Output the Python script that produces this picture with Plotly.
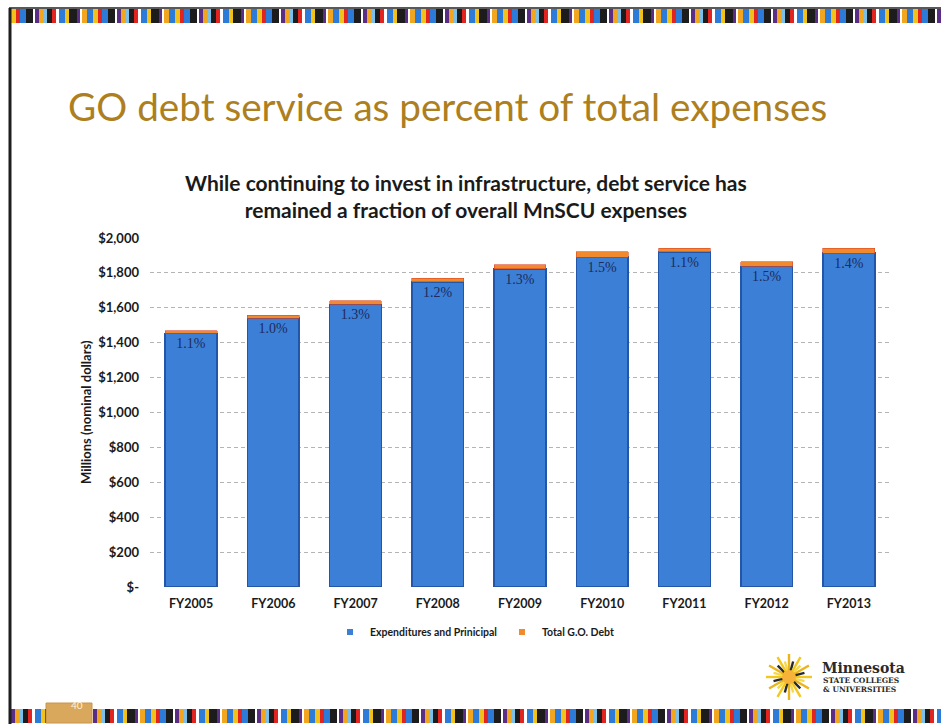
import math
import plotly.graph_objects as go

# Fiscal years and amounts in millions of nominal dollars
years = ["FY2005", "FY2006", "FY2007", "FY2008", "FY2009",
         "FY2010", "FY2011", "FY2012", "FY2013"]
expenditures = [1453, 1541, 1619, 1749, 1823, 1891, 1920, 1837, 1914]
go_debt = [16, 16, 21, 21, 24, 29, 21, 28, 27]
pct_labels = ["1.1%", "1.0%", "1.3%", "1.2%", "1.3%", "1.5%", "1.1%", "1.5%", "1.4%"]

y_ticks = [0, 200, 400, 600, 800, 1000, 1200, 1400, 1600, 1800, 2000]
y_tick_text = ["$-", "$200", "$400", "$600", "$800", "$1,000", "$1,200",
               "$1,400", "$1,600", "$1,800", "$2,000"]

EXP_BLUE = "#3B80D6"
DEBT_ORANGE = "#F08A2C"

W, H = 941, 725
ML, MR, MT, MB = 150, 51, 238, 138
PW, PH = W - ML - MR, H - MT - MB


def px(x):
    return (x - ML) / PW


def py(y):
    return (H - MB - y) / PH


fig = go.Figure()
fig.add_trace(go.Bar(
    x=years, y=expenditures, name="Expenditures and Prinicipal",
    legendgroup="exp", showlegend=False,
    marker=dict(color=EXP_BLUE, line=dict(color="#2356A8", width=1.5)),
    text=pct_labels, textposition="inside", insidetextanchor="end",
    textfont=dict(family="Liberation Serif", size=14, color="#1E2B5C"),
    textangle=0,
))
fig.add_trace(go.Bar(
    x=years, y=go_debt, name="Total G.O. Debt",
    legendgroup="debt", showlegend=False,
    marker=dict(color=DEBT_ORANGE, line=dict(color="#D9472A", width=0.6)),
))
# small square legend keys for the two series
fig.add_trace(go.Scatter(x=[None], y=[None], mode="markers", name="Expenditures and Prinicipal",
                         legendgroup="exp",
                         marker=dict(symbol="square", size=6, color=EXP_BLUE)))
fig.add_trace(go.Scatter(x=[None], y=[None], mode="markers", name="Total G.O. Debt",
                         legendgroup="debt",
                         marker=dict(symbol="square", size=6, color=DEBT_ORANGE)))

shapes = []

# decorative border stripes along top and bottom of the slide
palette = ["#F2C21C", "#E12420", "#2D7BD8", "#1C1C1C", "#FFFFFF", "#5A2D86",
           "#F2A51F", "#7CC0EA", "#1C1C1C", "#E12420", "#FFFFFF", "#2D7BD8",
           "#F2C21C", "#1C1C1C", "#5A2D86", "#FFFFFF", "#F2A51F", "#2D7BD8"]
widths = [5, 4, 6, 7, 2, 4, 5, 3, 5, 4, 3, 6, 4, 8, 3, 2, 5, 6]


def stripe(x0, x1, y0, y1, offset):
    x = x0
    i = offset
    while x < x1:
        w = widths[i % len(widths)]
        shapes.append(dict(type="rect", xref="paper", yref="paper", layer="above",
                           x0=px(x), x1=px(min(x + w, x1)), y0=py(y1), y1=py(y0),
                           fillcolor=palette[i % len(palette)], line=dict(width=0)))
        x += w
        i += 1


stripe(11, 941, 9, 23, 0)
stripe(11, 941, 709, 723, 5)
# thin dark rule above the top stripe
shapes.append(dict(type="line", xref="paper", yref="paper", x0=px(9), x1=px(941),
                   y0=py(8), y1=py(8), line=dict(color="#222222", width=1.5)))
# left frame edge
shapes.append(dict(type="line", xref="paper", yref="paper", x0=px(10), x1=px(10),
                   y0=py(8), y1=py(724), line=dict(color="#1E1E1E", width=3)))
# page number tab
shapes.append(dict(type="rect", xref="paper", yref="paper", x0=px(46), x1=px(92),
                   y0=py(723), y1=py(703), fillcolor="#D9A85C",
                   line=dict(color="#C8944A", width=1), layer="above"))

# sunburst emblem next to the logo text
cx, cy, r0, r1 = 789, 677, 5, 23
ray_colors = ["#F2C81E", "#F6D84A", "#E9B51A", "#2A2A2A"]
for k in range(24):
    a = 2 * math.pi * k / 24
    rr = r1 if k % 2 == 0 else r1 - 7
    shapes.append(dict(type="line", xref="paper", yref="paper",
                       x0=px(cx + r0 * math.cos(a)), y0=py(cy + r0 * math.sin(a)),
                       x1=px(cx + rr * math.cos(a)), y1=py(cy + rr * math.sin(a)),
                       line=dict(color=ray_colors[k % 4], width=2.4)))
shapes.append(dict(type="circle", xref="paper", yref="paper",
                   x0=px(cx - 7), x1=px(cx + 7), y0=py(cy + 7), y1=py(cy - 7),
                   fillcolor="#F7B23A", line=dict(width=0)))

annotations = [
    dict(text="GO debt service as percent of total expenses", x=px(66), y=py(106),
         xref="paper", yref="paper", xanchor="left", yanchor="middle", showarrow=False,
         font=dict(family="Lato", size=38.7, color="#AD7F1F")),
    dict(text="<b>While continuing to invest in infrastructure, debt service has<br>"
              "remained a fraction of overall MnSCU expenses</b>",
         x=px(466), y=py(196), xref="paper", yref="paper", xanchor="center",
         yanchor="middle", showarrow=False, align="center",
         font=dict(family="Lato", size=21, color="#1A1A1A")),
    dict(text="<b>Millions (nominal dollars)</b>", x=px(86), y=py(412), xref="paper",
         yref="paper", textangle=-90, showarrow=False, xanchor="center",
         yanchor="middle", font=dict(family="Lato", size=13, color="#1A1A1A")),
    dict(text="40", x=px(69), y=py(713), xref="paper", yref="paper", showarrow=False,
         font=dict(family="Lato", size=10, color="#FFF3D8")),
    dict(text="<b>Minnesota</b>", x=px(820), y=py(668), xref="paper", yref="paper",
         xanchor="left", yanchor="middle", showarrow=False,
         font=dict(family="DejaVu Serif", size=14, color="#2A2A2A")),
    dict(text="<b>STATE COLLEGES</b>", x=px(821), y=py(680), xref="paper", yref="paper",
         xanchor="left", yanchor="middle", showarrow=False,
         font=dict(family="DejaVu Serif", size=7.5, color="#2A2A2A")),
    dict(text="<b>&amp; UNIVERSITIES</b>", x=px(821), y=py(689), xref="paper",
         yref="paper", xanchor="left", yanchor="middle", showarrow=False,
         font=dict(family="DejaVu Serif", size=7.5, color="#2A2A2A")),
]

fig.update_layout(
    width=W, height=H, margin=dict(l=ML, r=MR, t=MT, b=MB),
    barmode="stack", bargap=0.37,
    paper_bgcolor="white", plot_bgcolor="white",
    font=dict(family="Lato", color="#1A1A1A"),
    showlegend=True,
    legend=dict(orientation="h", x=px(330), y=py(632), xanchor="left",
                yanchor="middle",
                font=dict(family="Lato", size=10.5, color="#1A1A1A", weight="bold"),
                itemwidth=30, traceorder="normal"),
    shapes=shapes, annotations=annotations,
    uniformtext=dict(minsize=12, mode="show"),
)
fig.update_yaxes(range=[0, 2000], tickvals=y_ticks, ticktext=y_tick_text,
                 showgrid=True, gridcolor="#B4B4B4", griddash="4px,3px", gridwidth=0.8,
                 zeroline=False, showline=False, ticks="",
                 tickfont=dict(family="Lato", size=13, color="#1A1A1A", weight="bold"),
                 ticklabelstandoff=10)
fig.update_xaxes(showline=False, ticks="", showgrid=False,
                 tickfont=dict(family="Lato", size=12.5, color="#1A1A1A", weight="bold"),
                 ticklabelstandoff=7)

fig.write_html("out.html")
